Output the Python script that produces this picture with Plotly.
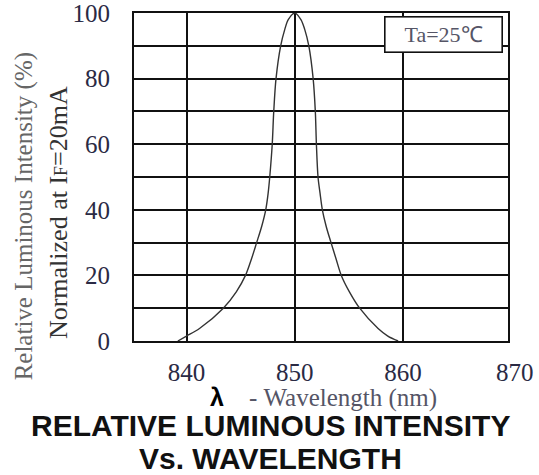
import plotly.graph_objects as go

# Data
wavelength_nm = [839.2, 840.0, 841.2, 843.4, 844.6, 845.45, 846.0, 846.48, 846.95, 847.32,
                 847.54, 847.69, 847.92, 848.06, 848.27, 848.7, 849.08, 849.4, 850.0,
                 850.57, 850.92, 851.3, 851.7, 851.9, 852.0, 852.15, 852.34, 852.55, 852.9,
                 853.35, 853.82, 854.3, 855.05, 856.0, 857.7, 858.6, 859.55]
intensity_pct = [0, 1.5, 3.8, 10, 15, 20, 25, 30, 35, 40,
                 45, 50, 60, 70, 80, 90, 95, 98, 100,
                 98, 95, 90, 80, 70, 60, 50, 45, 40, 35,
                 30, 25, 20, 15, 10, 3.8, 1.5, 0]

x_tick_vals = [840, 850, 860]
x_edge_label = "870"
y_tick_vals = [0, 20, 40, 60, 80, 100]
y_minor_grid = [10, 30, 50, 70, 90]

serif = "Liberation Serif, Times New Roman, serif"
sans = "Liberation Sans, Arial, sans-serif"
tick_font = dict(family=serif, size=25, color="#2a2a44")

fig = go.Figure()
fig.add_trace(go.Scatter(
    x=wavelength_nm, y=intensity_pct, mode="lines",
    line=dict(color="#333333", width=1.4, shape="spline", smoothing=0.9),
    hoverinfo="skip", showlegend=False,
))

fig.update_layout(
    width=539, height=475,
    margin=dict(l=134, r=31, t=13, b=134, autoexpand=False),
    paper_bgcolor="white", plot_bgcolor="white",
    showlegend=False,
    xaxis=dict(
        range=[835.15, 869.7], tickvals=x_tick_vals,
        showgrid=True, gridcolor="#111111", gridwidth=1.6,
        showline=True, linecolor="#111111", linewidth=2, mirror=True,
        zeroline=False, ticks="", automargin=False,
        ticklabelstandoff=8, ticklabeloverflow="allow",
        tickfont=tick_font,
    ),
    yaxis=dict(
        range=[0, 100], tickvals=y_tick_vals,
        showgrid=True, gridcolor="#111111", gridwidth=1.6,
        minor=dict(tickvals=y_minor_grid, showgrid=True,
                   gridcolor="#111111", gridwidth=1.6, ticks=""),
        showline=True, linecolor="#111111", linewidth=2, mirror=True,
        zeroline=False, ticks="", automargin=False,
        ticklabelstandoff=17, ticklabeloverflow="allow",
        tickfont=tick_font,
    ),
    annotations=[
        # last x tick label, just past the right edge of the frame
        dict(text=x_edge_label, xref="paper", yref="paper", x=1, y=0,
             xanchor="center", yanchor="top", xshift=7, yshift=-16, showarrow=False,
             font=tick_font),
        # Y-axis title, two rotated lines
        dict(text="Relative Luminous Intensity (%)", textangle=-90,
             xref="paper", yref="paper", x=(24 - 134) / 374, y=0.38,
             xanchor="center", yanchor="middle", showarrow=False,
             font=dict(family=serif, size=25, color="#666666")),
        dict(text="Normalized at I<span style='font-size:18px'>F</span>=20mA", textangle=-90,
             xref="paper", yref="paper", x=(58 - 134) / 374, y=0.39,
             xanchor="center", yanchor="middle", showarrow=False,
             font=dict(family=serif, size=26, color="#333333")),
        # X-axis title
        dict(text="<span style='font-family:Liberation Sans;color:#000000'><b>λ</b></span>    - Wavelength (nm)",
             xref="paper", yref="paper", x=(323 - 134) / 374, y=(341 - 397) / 328,
             xanchor="center", yanchor="middle", showarrow=False,
             font=dict(family=serif, size=25, color="#555566")),
        # Condition box
        dict(text="Ta=25℃", xref="paper", yref="paper", x=(443 - 134) / 374, y=(341 - 34.5) / 328,
             xanchor="center", yanchor="middle", showarrow=False,
             width=114, height=32, bgcolor="white",
             bordercolor="#111111", borderwidth=1.6, borderpad=1,
             font=dict(family=serif, size=22, color="#555566")),
        # Bottom title
        dict(text="<b>RELATIVE LUMINOUS INTENSITY</b>", xref="paper", yref="paper",
             x=(270 - 134) / 374, y=(341 - 425) / 328,
             xanchor="center", yanchor="middle", showarrow=False,
             font=dict(family=sans, size=30, color="#111111")),
        dict(text="<b>Vs. WAVELENGTH</b>", xref="paper", yref="paper",
             x=(270 - 134) / 374, y=(341 - 458) / 328,
             xanchor="center", yanchor="middle", showarrow=False,
             font=dict(family=sans, size=30, color="#111111")),
    ],
)

# remove the default 8px page margin so the 539x475 figure fills the window exactly
fig.write_html("out.html", config={"displayModeBar": False},
               post_script="document.body.style.margin='0px';document.body.style.overflow='hidden';")
